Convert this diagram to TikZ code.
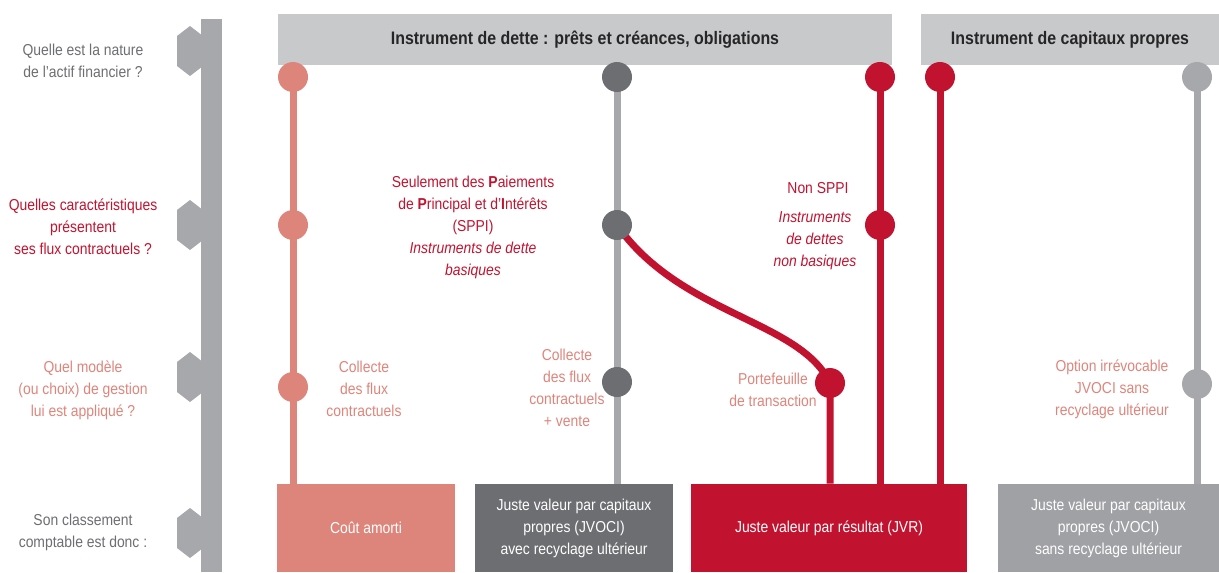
\documentclass[tikz,border=0pt]{standalone}
\usepackage{fontspec}
\setmainfont{Liberation Sans}[FakeStretch=0.88]
\usetikzlibrary{backgrounds}
\definecolor{saumon}{HTML}{DE857B}
\definecolor{rouge}{HTML}{C1132F}
\definecolor{grisfonce}{HTML}{6D6E71}
\definecolor{grisclair}{HTML}{A7A8AC}
\definecolor{grisbande}{HTML}{C8C9CB}
\definecolor{grisboite}{HTML}{A0A1A5}
\begin{document}
\begin{tikzpicture}[x=0.02cm, y=-0.02cm,
    txt/.style={align=center, font=\fontsize{9}{12.5}\selectfont},
    pastille/.style={circle, fill=#1, minimum size=0.6cm, inner sep=0pt},
    ligne/.style={draw=#1, line width=0.14cm},
    bande/.style={fill=grisbande, minimum height=1.02cm, inner sep=0pt,
        font=\fontsize{10.3}{12}\selectfont\bfseries, text=black!85},
    classe/.style={fill=#1, text=white, txt, minimum height=1.76cm, inner sep=0pt}]

    \useasboundingbox (0,0) rectangle (1219,572);

    % axe des questions
    \fill[grisclair] (201,19) rectangle (222,572);
    \foreach \c in {51,225,377,533}
        \fill[grisclair] (177,\c-15) -- (190,\c-25) -- (203,\c-15) -- (203,\c+15)
            -- (190,\c+25) -- (177,\c+15) -- cycle;

    \node[txt, text=grisfonce] (q1) at (83,61) {Quelle est la nature\\de l’actif financier ?};
    \node[txt, text=rouge] (q2) at (83,227) {Quelles caractéristiques\\présentent\\ses flux contractuels ?};
    \node[txt, text=saumon] (q3) at (83,390) {Quel modèle\\(ou choix) de gestion\\lui est appliqué ?};
    \node[txt, text=grisfonce] (q4) at (83,532) {Son classement\\comptable est donc :};

    % bandeaux
    \node[bande, minimum width=12.28cm] (dette) at (585,39.5) {Instrument de dette : prêts et créances, obligations};
    \node[bande, minimum width=5.96cm] (capitaux) at (1070,39.5) {Instrument de capitaux propres};

    % classements
    \node[classe=saumon, minimum width=3.56cm] (c1) at (366,528) {Coût amorti};
    \node[classe=grisfonce, minimum width=3.96cm] (c2) at (574,528) {Juste valeur par capitaux\\propres (JVOCI)\\avec recyclage ultérieur};
    \node[classe=rouge, minimum width=5.52cm] (c3) at (829,528) {Juste valeur par résultat (JVR)};
    \node[classe=grisboite, minimum width=4.42cm] (c4) at (1108.5,528) {Juste valeur par capitaux\\propres (JVOCI)\\sans recyclage ultérieur};

    % pastilles
    \node[pastille=saumon] (s1) at (293,77) {};
    \node[pastille=saumon] (s2) at (293,225) {};
    \node[pastille=saumon] (s3) at (293,387) {};
    \node[pastille=grisfonce] (g1) at (617,77) {};
    \node[pastille=grisfonce] (g2) at (617,225) {};
    \node[pastille=grisfonce] (g3) at (617,382) {};
    \node[pastille=rouge] (r1) at (880,77) {};
    \node[pastille=rouge] (r2) at (880,225) {};
    \node[pastille=rouge] (r3) at (830,383) {};
    \node[pastille=rouge] (r4) at (940,77) {};
    \node[pastille=grisclair] (e1) at (1197,77) {};
    \node[pastille=grisclair] (e2) at (1197,384) {};

    \begin{pgfonlayer}{background}
        \draw[ligne=saumon] (s1.center) -- (s2.center) -- (s3.center) -- (s3.center |- c1.north);
        \draw[ligne=grisclair] (g1.center) -- (g2.center) -- (g3.center) -- (g3.center |- c2.north);
        \draw[ligne=rouge] (g2.center) .. controls (680,315) and (800,320) .. (r3.center) -- (r3.center |- c3.north);
        \draw[ligne=rouge] (r1.center) -- (r2.center) -- (r2.center |- c3.north);
        \draw[ligne=rouge] (r4.center) -- (r4.center |- c3.north);
        \draw[ligne=grisclair] (e1.center) -- (e2.center) -- (e2.center |- c4.north);
    \end{pgfonlayer}

    % libelles
    \node[txt, text=rouge] (sppi) at (473,227) {Seulement des \textbf{P}aiements\\de \textbf{P}rincipal et d’\textbf{I}ntérêts\\(SPPI)\\\textit{Instruments de dette}\\\textit{basiques}};
    \node[txt, text=rouge] (nonsppi) at (818,188) {Non SPPI};
    \node[txt, text=rouge, font=\fontsize{9}{12.5}\selectfont\itshape] (nonbasiques) at (815,241) {Instruments\\de dettes\\non basiques};
    \node[txt, text=saumon] (collecte) at (364,389) {Collecte\\des flux\\contractuels};
    \node[txt, text=saumon] (vente) at (567,388) {Collecte\\des flux\\contractuels\\+ vente};
    \node[txt, text=saumon] (transaction) at (773,390) {Portefeuille\\de transaction};
    \node[txt, text=saumon] (option) at (1112,389) {Option irrévocable\\JVOCI sans\\recyclage ultérieur};

\end{tikzpicture}
\end{document}
